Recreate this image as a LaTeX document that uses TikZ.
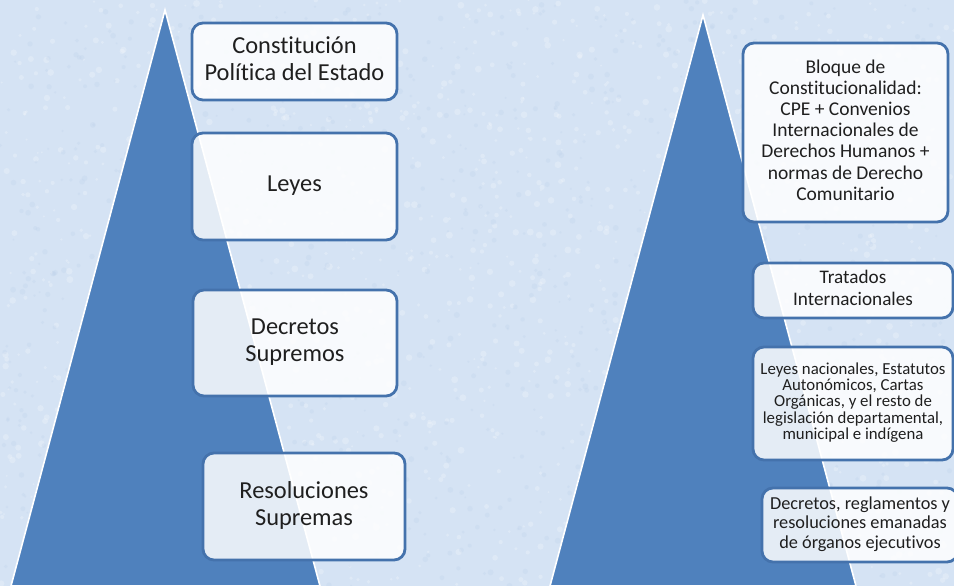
\documentclass[tikz,border=0pt]{standalone}
\usepackage{fontspec}
\setmainfont{Carlito}[Ligatures={NoCommon}]
\definecolor{bgblue}{RGB}{213,227,244}
\definecolor{bgdark}{RGB}{188,208,234}
\definecolor{pyr}{RGB}{79,129,189}
\definecolor{bord}{RGB}{68,114,172}
\newcommand{\txtlines}[3]{\fontsize{#1}{#2}\selectfont\begin{tabular}{@{}c@{}}#3\end{tabular}}
\begin{document}
\begin{tikzpicture}[x=1pt,y=-1pt,
  box/.style={draw=bord, line width=2.8pt, rounded corners=11pt, fill=white,
    fill opacity=0.85, draw opacity=1, text opacity=1, inner sep=0pt, align=center, text=black!88},
  pyramid/.style={fill=pyr, draw=white, line width=1.6pt, line join=miter},
  speckw/.style={fill=white, fill opacity=0.22, draw=none},
  speckb/.style={fill=bgdark, fill opacity=0.25, draw=none}]
\useasboundingbox (0,0) rectangle (954,586);
\fill[bgblue] (0,0) rectangle (954,586);
% background texture
\begin{scope}
\clip (0,0) rectangle (954,586);
\pgfmathsetseed{11}
\foreach \i in {1,...,1400}{
  \pgfmathsetmacro{\px}{954*rnd}
  \pgfmathsetmacro{\py}{586*rnd}
  \pgfmathsetmacro{\pr}{1+2.5*rnd}
  \fill[speckw] (\px,\py) circle[radius=\pr];
}
\foreach \i in {1,...,1000}{
  \pgfmathsetmacro{\px}{954*rnd}
  \pgfmathsetmacro{\py}{586*rnd}
  \pgfmathsetmacro{\pr}{1+2*rnd}
  \fill[speckb] (\px,\py) circle[radius=\pr];
}
\end{scope}
% pyramids
\path[pyramid] (165,10) -- (320,586) -- (11,586) -- cycle;
\path[pyramid] (703,15) -- (856,586) -- (550,586) -- cycle;
% left boxes
\node[box, minimum width=205pt, minimum height=77pt] (cpe) at (294.5,61.5)
  {\txtlines{24.4}{27}{Constitución\\Política del Estado}};
\node[box, minimum width=205pt, minimum height=107pt] (leyes) at (294.5,186.5)
  {\txtlines{24.4}{27}{Leyes}};
\node[box, minimum width=204pt, minimum height=106pt] (ds) at (295,343)
  {\txtlines{24.4}{27}{Decretos\\Supremos}};
\node[box, minimum width=202pt, minimum height=107pt] (rs) at (304,506.5)
  {\txtlines{24.4}{27}{Resoluciones\\Supremas}};
% right boxes
\node[box, minimum width=205pt, minimum height=179pt] (bloque) at (845.5,132.5)
  {\txtlines{19.5}{21.2}{Bloque de\\Constitucionalidad:\\CPE + Convenios\\Internacionales de\\Derechos Humanos +\\normas de Derecho\\Comunitario}};
\node[box, minimum width=200pt, minimum height=55pt] (trat) at (853,290.5)
  {\raisebox{-2pt}{\txtlines{19.2}{22}{Tratados\\Internacionales}}};
\node[box, minimum width=200pt, minimum height=113pt] (lnac) at (853,403.5)
  {\txtlines{16.8}{15.3}{Leyes nacionales, Estatutos\\Autonómicos, Cartas\\Orgánicas, y el resto de\\legislación departamental,\\municipal e indígena}};
\node[box, minimum width=196pt, minimum height=74pt] (dreg) at (860,525)
  {\txtlines{18.3}{19.5}{Decretos, reglamentos y\\resoluciones emanadas\\de órganos ejecutivos}};
\end{tikzpicture}
\end{document}
